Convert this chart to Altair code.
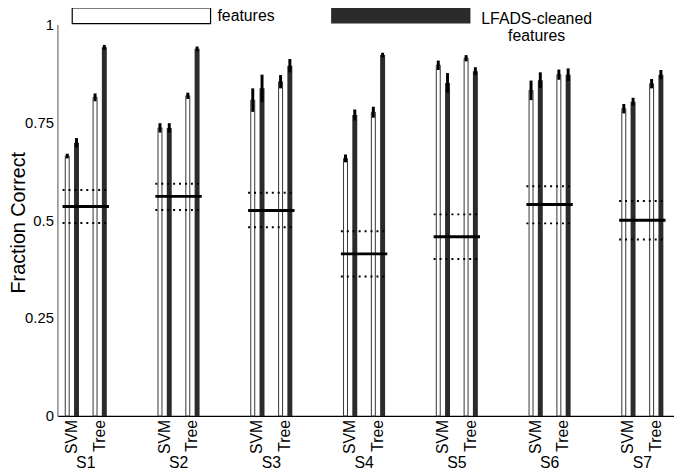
import altair as alt
import pandas as pd

subjects = ["S1", "S2", "S3", "S4", "S5", "S6", "S7"]
svm_raw = [0.664, 0.736, 0.807, 0.658, 0.896, 0.832, 0.785]
svm_raw_err = [0.006, 0.012, 0.030, 0.010, 0.012, 0.025, 0.012]
svm_lfads = [0.698, 0.736, 0.837, 0.769, 0.851, 0.858, 0.803]
svm_lfads_err = [0.012, 0.012, 0.035, 0.014, 0.025, 0.020, 0.010]
tree_raw = [0.814, 0.818, 0.854, 0.776, 0.914, 0.872, 0.849]
tree_raw_err = [0.010, 0.008, 0.017, 0.014, 0.008, 0.013, 0.012]
tree_lfads = [0.942, 0.938, 0.895, 0.922, 0.881, 0.872, 0.872]
tree_lfads_err = [0.006, 0.006, 0.017, 0.006, 0.010, 0.016, 0.012]
chance_mean = [0.535, 0.561, 0.525, 0.414, 0.458, 0.540, 0.500]
chance_hi = [0.577, 0.593, 0.570, 0.472, 0.515, 0.587, 0.549]
chance_lo = [0.493, 0.526, 0.482, 0.356, 0.401, 0.492, 0.451]
y_ticks = [0, 0.25, 0.5, 0.75, 1]

series = [
    ("SVM", "raw", svm_raw, svm_raw_err, -0.2),
    ("SVM", "lfads", svm_lfads, svm_lfads_err, -0.1),
    ("Tree", "raw", tree_raw, tree_raw_err, 0.1),
    ("Tree", "lfads", tree_lfads, tree_lfads_err, 0.2),
]
rows = []
for i, s in enumerate(subjects):
    for clf, kind, vals, errs, off in series:
        rows.append(dict(subject=s, clf=clf, kind=kind, x=i + off,
                         value=vals[i], lo=vals[i] - errs[i], hi=vals[i] + errs[i]))
bars = pd.DataFrame(rows)

chance = pd.DataFrame(dict(
    subject=subjects,
    xa=[i - 0.25 for i in range(len(subjects))],
    xb=[i + 0.25 for i in range(len(subjects))],
    xc=list(range(len(subjects))),
    mean=chance_mean, lo=chance_lo, hi=chance_hi,
))

lab_rows = []
for i, s in enumerate(subjects):
    lab_rows.append(dict(x=i - 0.15, label="SVM"))
    lab_rows.append(dict(x=i + 0.15, label="Tree"))
labels = pd.DataFrame(lab_rows)

xscale = alt.Scale(domain=[-0.2526, 6.288], nice=False, zero=False)
yscale = alt.Scale(domain=[0, 1], nice=False)
X = alt.X("x:Q", scale=xscale,
          axis=alt.Axis(labels=False, ticks=False, title=None, grid=False,
                        domainColor="black", domainWidth=1.2))
Y = alt.Y("value:Q", scale=yscale,
          axis=alt.Axis(values=y_ticks, labelExpr="'' + datum.value", ticks=False,
                        grid=False, domainColor="#8a8a8a", domainWidth=1.5,
                        labelFontSize=15, labelPadding=4, labelColor="black",
                        title="Fraction Correct", titleFontSize=20,
                        titleFontWeight="normal", titleColor="black",
                        titleX=-39, titleY=200, titleAlign="center",
                        titleBaseline="middle", labelOverlap=False))

white = alt.Chart(bars).transform_filter(alt.datum.kind == "raw").mark_bar(
    orient="vertical", size=4, fill="white", stroke="#333333", strokeWidth=1
).encode(x=X, y=Y)
dark = alt.Chart(bars).transform_filter(alt.datum.kind == "lfads").mark_bar(
    orient="vertical", size=5, fill="#2b2b2b"
).encode(x=X, y=Y)
err = alt.Chart(bars).mark_rule(color="black", strokeWidth=3).encode(
    x=alt.X("x:Q", scale=xscale), y=alt.Y("lo:Q", scale=yscale), y2="hi:Q")

solid = alt.Chart(chance).mark_rule(color="black", strokeWidth=3).encode(
    x=alt.X("xa:Q", scale=xscale), x2="xb:Q", y=alt.Y("mean:Q", scale=yscale))
dot_hi = alt.Chart(chance).mark_rule(color="black", strokeWidth=2, strokeDash=[2, 4]).encode(
    x=alt.X("xa:Q", scale=xscale), x2="xb:Q", y=alt.Y("hi:Q", scale=yscale))
dot_lo = alt.Chart(chance).mark_rule(color="black", strokeWidth=2, strokeDash=[2, 4]).encode(
    x=alt.X("xa:Q", scale=xscale), x2="xb:Q", y=alt.Y("lo:Q", scale=yscale))

clf_text = alt.Chart(labels).mark_text(
    angle=270, align="right", baseline="middle", fontSize=16, color="black"
).encode(x=alt.X("x:Q", scale=xscale), y=alt.value(400), text="label:N")
subj_text = alt.Chart(chance).mark_text(
    align="center", baseline="middle", fontSize=16, color="black"
).encode(x=alt.X("xc:Q", scale=xscale), y=alt.value(444), text="subject:N")

dummy = pd.DataFrame({"a": [0]})
leg_white = alt.Chart(dummy).mark_rect(fill="white", stroke="black", strokeWidth=1.2).encode(
    x=alt.value(15), x2=alt.value(155), y=alt.value(-17), y2=alt.value(-1))
leg_dark = alt.Chart(dummy).mark_rect(fill="#2b2b2b").encode(
    x=alt.value(277), x2=alt.value(418), y=alt.value(-17), y2=alt.value(-1))
leg_t1 = alt.Chart(dummy).mark_text(align="left", baseline="middle", fontSize=16, color="black").encode(
    x=alt.value(162), y=alt.value(-9), text=alt.value("features"))
leg_t2 = alt.Chart(dummy).mark_text(align="center", baseline="top", fontSize=16, color="black").encode(
    x=alt.value(485), y=alt.value(-14), text=alt.value("LFADS-cleaned"))
leg_t3 = alt.Chart(dummy).mark_text(align="center", baseline="top", fontSize=16, color="black").encode(
    x=alt.value(485), y=alt.value(4), text=alt.value("features"))

chart = alt.layer(
    white, dark, err, solid, dot_hi, dot_lo, clf_text, subj_text,
    leg_white, leg_dark, leg_t1, leg_t2, leg_t3
).properties(
    width=624, height=396,
    padding={"left": 50, "top": 14, "right": 0, "bottom": 54},
    autosize=alt.AutoSizeParams(type="none"),
).configure(font="Liberation Sans").configure_view(stroke=None)

chart.save("out.html", embed_options={"renderer": "svg", "actions": False})
